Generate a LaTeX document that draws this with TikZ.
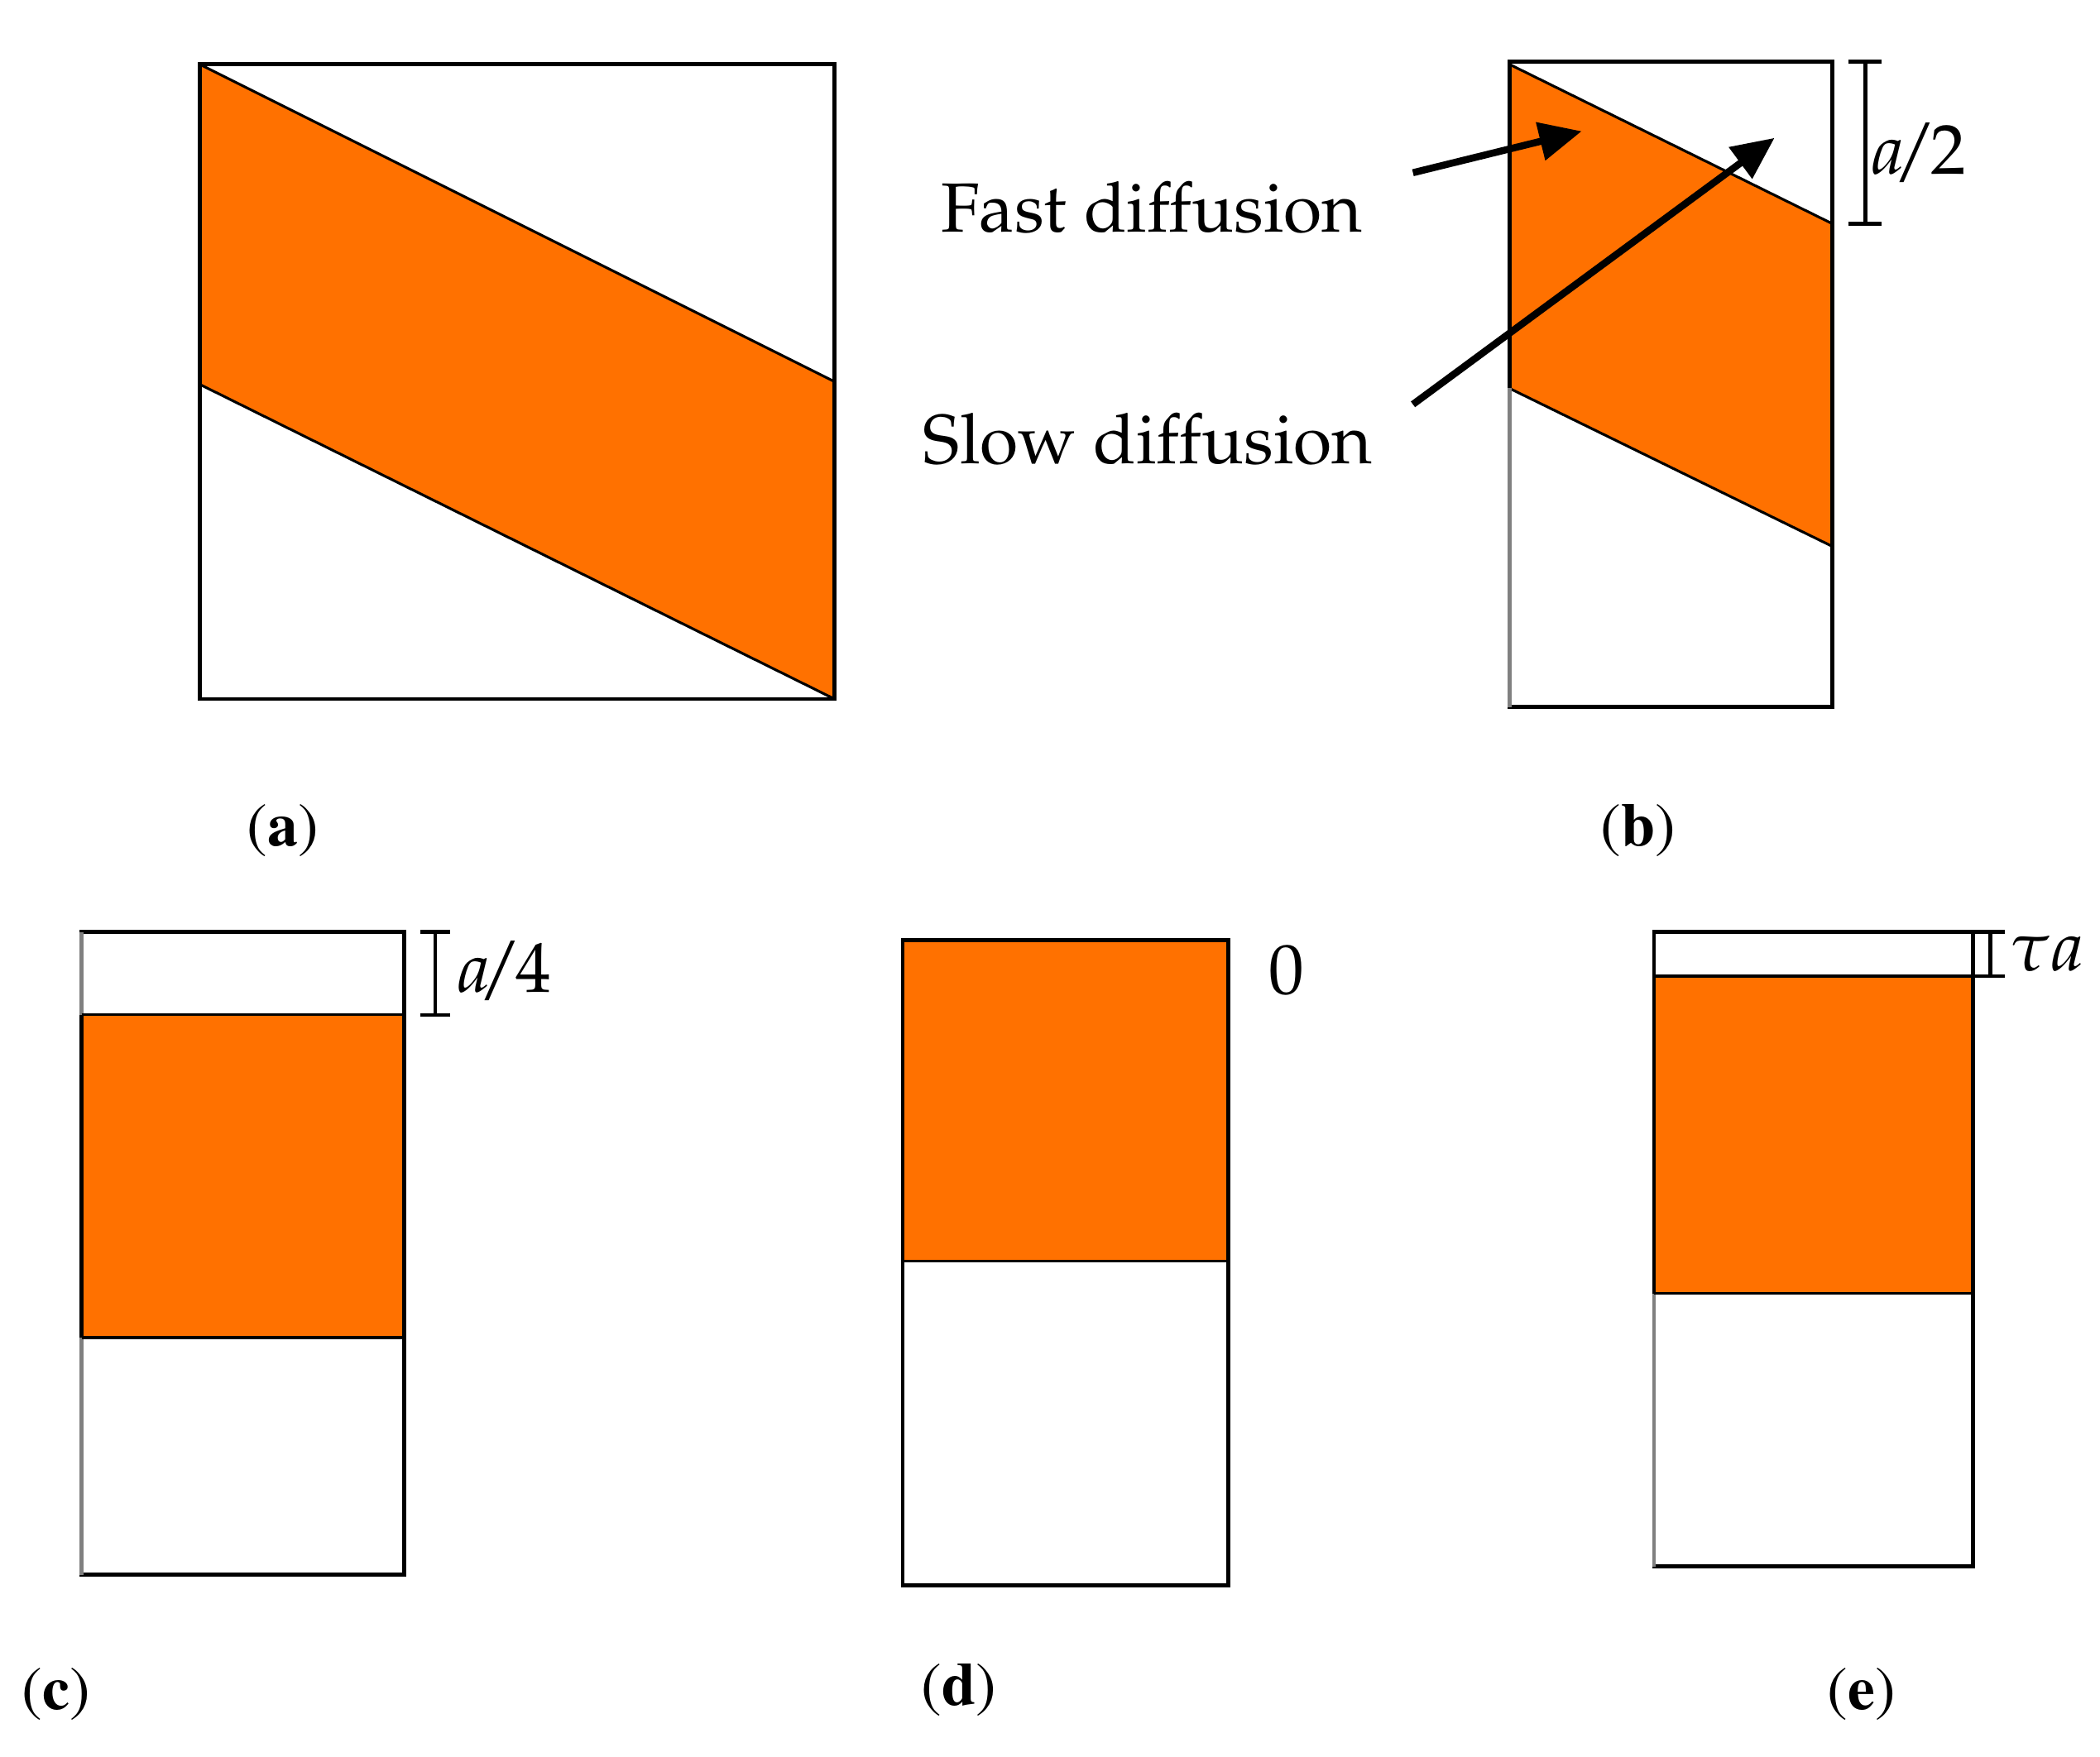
\documentclass[tikz,border=0pt]{standalone}
\usepackage[T1]{fontenc}
\usepackage{mathpazo}
\usetikzlibrary{arrows.meta}
\definecolor{bandorange}{RGB}{255,113,0}
\newcommand{\fracslash}[1]{\textit{a}\kern-0.16em/\kern-0.08em#1}
\tikzset{
  box/.style={draw=black, line width=0.85pt},
  leftgray/.style={draw=black!50, line width=0.85pt},
  bandedge/.style={draw=black, line width=0.55pt},
  lbl/.style={font=\fontsize{14.8}{18}\selectfont, inner sep=0pt},
  mlbl/.style={font=\fontsize{15}{18}\selectfont, inner sep=0pt, anchor=west},
  sublbl/.style={font=\fontfamily{ptm}\fontsize{13}{16}\selectfont, inner sep=0pt},
  dimbar/.style={line width=0.8pt},
  pointer/.style={line width=1.5pt, -{Triangle[length=9pt,width=8pt]}},
}
\begin{document}
\begin{tikzpicture}[x=0.01cm, y=-0.01cm]
\useasboundingbox (0,0) rectangle (1568,1312);

% ---------- panel (a)
\fill[bandorange] (149,48) -- (623,285) -- (623,522) -- (149,287) -- cycle;
\draw[bandedge] (149,48) -- (623,285);
\draw[bandedge] (149,287) -- (623,522);
\draw[box] (149,48) rectangle (623,522);
\node[sublbl] (la) at (211,620) {(\textbf{a})};

% ---------- panel (b)
\fill[bandorange] (1127,48) -- (1368,167) -- (1368,408) -- (1127,290) -- cycle;
\draw[bandedge] (1127,48) -- (1368,167);
\draw[bandedge] (1127,290) -- (1368,408);
\draw[box] (1127,46) rectangle (1368,528);
\draw[leftgray] (1127,290) -- (1127,528);
\draw[dimbar] (1393,46) -- (1393,167);
\draw[dimbar] (1380,46) -- (1405,46);
\draw[dimbar] (1380,167) -- (1405,167);
\node[mlbl] (half) at (1398,114) {\fracslash{2}};
\node[sublbl] (lb) at (1223,620) {(\textbf{b})};

\node[lbl] (fast) at (860,155) {Fast diffusion};
\node[lbl] (slow) at (857,328) {Slow diffusion};
\coordinate (fs) at (1055,129);
\coordinate (ft) at (1181,98);
\coordinate (ss) at (1055,302);
\coordinate (st) at (1325,103);
\draw[pointer] (fs) -- (ft);
\draw[pointer] (ss) -- (st);

% ---------- panel (c)
\fill[bandorange] (61,758) rectangle (302,999);
\draw[box] (61,696) rectangle (302,1176);
\draw[leftgray] (61,696) -- (61,758);
\draw[leftgray] (61,999) -- (61,1176);
\draw[bandedge] (61,758) -- (302,758);
\draw[bandedge] (61,999) -- (302,999);
\draw[dimbar] (325,696) -- (325,758);
\draw[dimbar] (314,696) -- (336,696);
\draw[dimbar] (314,758) -- (336,758);
\node[mlbl] (quarter) at (342,725) {\fracslash{4}};
\node[sublbl] (lc) at (42,1265) {(\textbf{c})};

% ---------- panel (d)
\fill[bandorange] (674,702) rectangle (917,942);
\draw[box] (674,702) rectangle (917,1184);
\draw[bandedge] (674,942) -- (917,942);
\node[mlbl] (zero) at (947,725) {$0$};
\node[sublbl] (ld) at (716,1262) {(\textbf{d})};

% ---------- panel (e)
\fill[bandorange] (1235,729) rectangle (1473,966);
\draw[box] (1235,696) rectangle (1473,1170);
\draw[leftgray] (1235,966) -- (1235,1170);
\draw[bandedge] (1235,966) -- (1473,966);
\draw[box] (1235,696) -- (1497,696);
\draw[box] (1235,729) -- (1497,729);
\draw[dimbar] (1486,696) -- (1486,729);
\node[mlbl] (tau) at (1500,712) {$\tau a$};
\node[sublbl] (le) at (1390,1265) {(\textbf{e})};
\end{tikzpicture}
\end{document}
